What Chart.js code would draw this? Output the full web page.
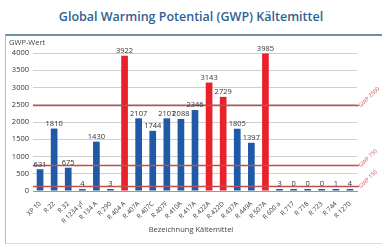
<!DOCTYPE html>
<html>
<head>
<meta charset="utf-8">
<script src="https://cdn.jsdelivr.net/npm/chart.js@4"></script>
<style>
  html, body { margin: 0; padding: 0; background: #fff; width: 382px; height: 244px; overflow: hidden; }
  #title { position: absolute; left: 0; top: 8px; width: 382px; text-align: center;
           font: 600 12.5px "Open Sans", sans-serif; color: #2f6293; }
  #box { position: absolute; left: 5px; top: 34px; width: 377px; height: 207px;
         border-top: 2px solid #6e8fa8; border-left: 1px solid #a9c3d6; border-bottom: 2px solid #c9e3ef; }
  #box canvas { display: block; }
</style>
</head>
<body>
<div id="title">Global Warming Potential (GWP) Kältemittel</div>
<div id="box"><canvas id="gwpChart" width="376" height="207"></canvas></div>
<script>
window.onload = () => {

    // ================= DATA =================

    const refrigerants = [
        "XP 10", "R 22", "R 32", "R 1234 yf", "R 134 A", "R 290", "R 404 A",
        "R 407A", "R 407C", "R 407F", "R 410A", "R 417A", "R 422A", "R 422D",
        "R 437A", "R 449A", "R 507A", "R 600 a", "R 717", "R 718", "R 723",
        "R 744", "R 1270"
    ];
    const gwpValues = [
        631, 1810, 675, 4, 1430, 3, 3922,
        2107, 1744, 2107, 2088, 2346, 3143, 2729,
        1805, 1397, 3985, 3, 0, 0, 0,
        1, 4
    ];
    const highlighted = [
        "R 404 A", "R 422A", "R 422D", "R 507A"
    ];
    const limits = [2500, 750, 150];
    const limitLabels = ["GWP 2500", "GWP 750", "GWP 150"];
    const yTicks = [0, 500, 1000, 1500, 2000, 2500, 3000, 3500, 4000];

    const BLUE = "#1f5aa6";
    const RED = "#e8212b";

    // ================= PLUGINS =================

    const limitLines = {
        id: "limitLines",
        afterDatasetsDraw(chart) {
            const { ctx, chartArea, scales } = chart;
            ctx.save();
            limits.forEach((v, i) => {
                const y = Math.round(scales.y.getPixelForValue(v)) + 0.5;
                ctx.strokeStyle = "#c0504d";
                ctx.lineWidth = 1.3;
                ctx.beginPath();
                ctx.moveTo(chartArea.left, y);
                ctx.lineTo(chartArea.right + 2, y);
                ctx.stroke();

                ctx.save();
                ctx.translate(chartArea.right + 3, y + 1);
                ctx.rotate(-Math.PI / 4);
                ctx.font = "5.5px 'Open Sans', sans-serif";
                ctx.fillStyle = "#e0505a";
                ctx.textBaseline = "middle";
                ctx.fillText(limitLabels[i], 0, 0);
                ctx.restore();
            });
            ctx.restore();
        }
    };

    const valueLabels = {
        id: "valueLabels",
        afterDatasetsDraw(chart) {
            const { ctx } = chart;
            const meta = chart.getDatasetMeta(0);
            ctx.save();
            ctx.font = "7.5px 'Open Sans', sans-serif";
            ctx.fillStyle = "#333";
            ctx.textAlign = "center";
            ctx.textBaseline = "bottom";
            meta.data.forEach((bar, i) => {
                ctx.fillText(String(gwpValues[i]), bar.x, bar.y - 1);
            });
            ctx.restore();
        }
    };

    const captions = {
        id: "captions",
        afterDraw(chart) {
            const { ctx, chartArea } = chart;
            ctx.save();
            ctx.font = "7.5px 'Open Sans', sans-serif";
            ctx.fillStyle = "#444";
            ctx.textBaseline = "top";
            ctx.fillText("GWP-Wert", 3, 3);
            ctx.textAlign = "center";
            ctx.textBaseline = "middle";
            ctx.fillText("Bezeichnung Kältemittel", (chartArea.left + chartArea.right) / 2 - 4, chart.height - 13);
            ctx.restore();
        }
    };

    // ================= CHART =================

    new Chart(document.getElementById("gwpChart"), {
        type: "bar",
        data: {
            labels: refrigerants,
            datasets: [{
                data: gwpValues,
                backgroundColor: refrigerants.map(r => highlighted.includes(r) ? RED : BLUE),
                barPercentage: 0.5,
                categoryPercentage: 0.95,
                minBarLength: 2
            }]
        },
        options: {
            responsive: false,
            animation: false,
            layout: { padding: { top: 17, right: 25, left: 2, bottom: 0 } },
            plugins: {
                legend: { display: false },
                tooltip: { enabled: false }
            },
            scales: {
                x: {
                    afterFit: axis => { axis.height = 52; },
                    grid: { display: false },
                    border: { color: "#999" },
                    ticks: {
                        color: "#333",
                        font: { size: 6.5, family: "'Open Sans', sans-serif" },
                        minRotation: 45,
                        maxRotation: 45,
                        autoSkip: false,
                        padding: 1
                    }
                },
                y: {
                    min: 0,
                    max: 4000,
                    afterFit: axis => { axis.width = 25; },
                    afterBuildTicks: axis => { axis.ticks = yTicks.map(v => ({ value: v })); },
                    grid: { color: "#cfcfcf", drawTicks: false },
                    border: { display: false },
                    ticks: {
                        color: "#333",
                        font: { size: 7.5, family: "'Open Sans', sans-serif" },
                        padding: 4,
                        callback: v => String(v)
                    }
                }
            }
        },
        plugins: [limitLines, valueLabels, captions]
    });
};
</script>
</body>
</html>
